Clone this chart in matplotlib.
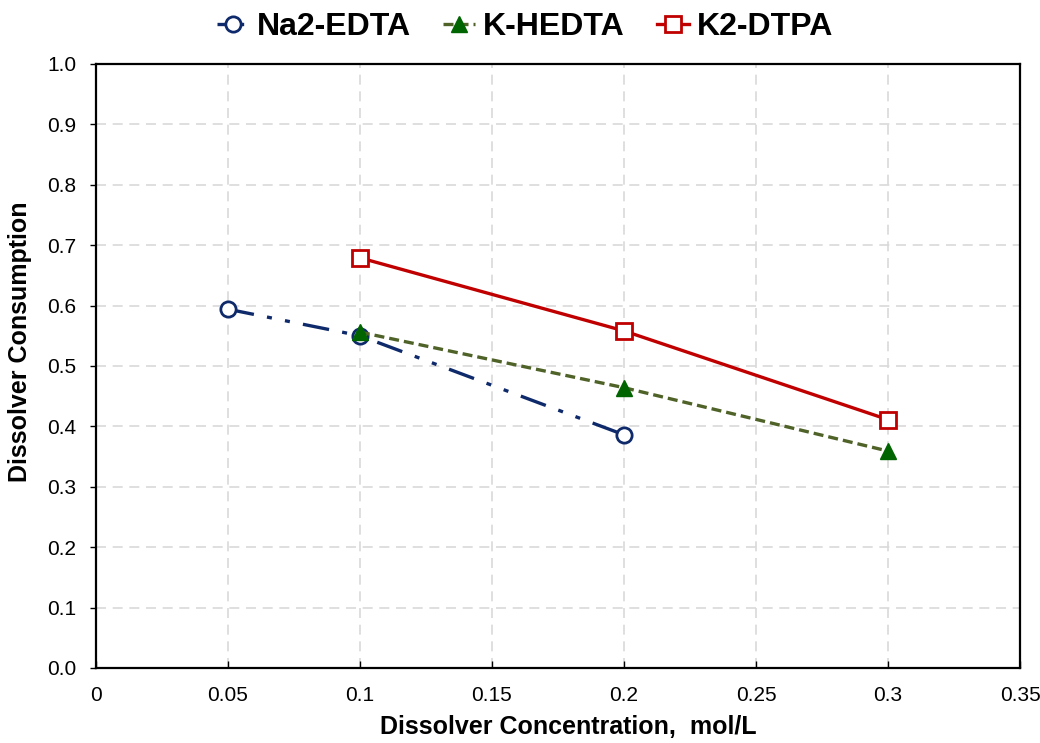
import matplotlib
matplotlib.use("Agg")
import matplotlib.pyplot as plt

plt.rcParams['font.family'] = ['Liberation Sans', 'DejaVu Sans']

# data
edta_x = [0.05, 0.1, 0.2]
edta_y = [0.594, 0.550, 0.386]
hedta_x = [0.1, 0.2, 0.3]
hedta_y = [0.556, 0.464, 0.359]
dtpa_x = [0.1, 0.2, 0.3]
dtpa_y = [0.679, 0.558, 0.411]

fig = plt.figure(figsize=(10.4, 7.43), dpi=100)
ax = fig.add_axes([0.092, 0.101, 0.889, 0.813])

ax.plot(edta_x, edta_y, color='#0F2A6B', lw=2.4, dashes=(8, 4, 1.5, 4, 1.5, 4),
        marker='o', ms=11, mfc='white', mec='#0F2A6B', mew=2, label='Na2-EDTA')
ax.plot(hedta_x, hedta_y, color='#4F6228', lw=2.4, ls=(0, (3, 1.5)),
        marker='^', ms=11, mfc='#006400', mec='#006400', label='K-HEDTA')
ax.plot(dtpa_x, dtpa_y, color='#C00000', lw=2.4,
        marker='s', ms=12, mfc='white', mec='#C00000', mew=2, label='K2-DTPA')

ax.set_xlim(0, 0.35)
ax.set_ylim(0, 1.0)
ax.set_xticks([0, 0.05, 0.1, 0.15, 0.2, 0.25, 0.3, 0.35])
ax.set_xticklabels(['0', '0.05', '0.1', '0.15', '0.2', '0.25', '0.3', '0.35'])
ax.set_yticks([i / 10 for i in range(11)])
ax.set_yticklabels([f'{i / 10:.1f}' for i in range(11)])
ax.tick_params(axis='y', direction='out', length=4, width=1, labelsize=15, pad=10)
ax.tick_params(axis='x', direction='in', length=5, width=1, labelsize=15, pad=13)
ax.grid(True, color='#D9D9D9', ls=(0, (6, 4)), lw=1.2)
ax.set_axisbelow(True)
for s in ax.spines.values():
    s.set_linewidth(1.6)
    s.set_color('black')

ax.set_xlabel('Dissolver Concentration,  mol/L', fontsize=18, fontweight='bold')
ax.set_ylabel('Dissolver Consumption', fontsize=18, fontweight='bold')
ax.xaxis.set_label_coords(0.511, -0.078)
ax.yaxis.set_label_coords(-0.069, 0.54)

fig.legend(loc='upper center', bbox_to_anchor=(0.505, 1.022), ncol=3, frameon=False,
           prop={'size': 23, 'weight': 'bold'}, handlelength=1.0, columnspacing=1.0,
           handletextpad=0.25)

fig.savefig('out.png', dpi=100)
